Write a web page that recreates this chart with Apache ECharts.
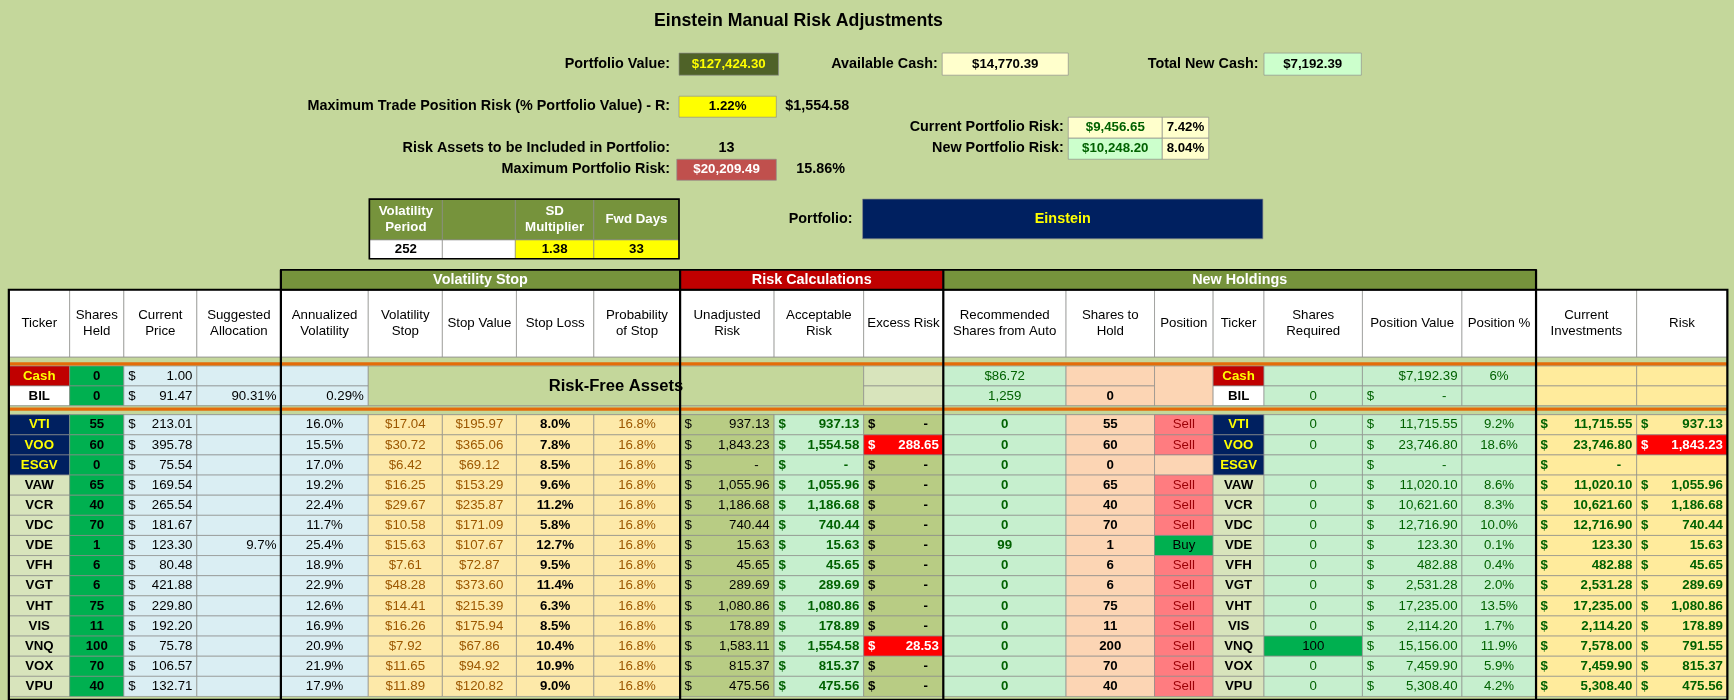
<!DOCTYPE html>
<html><head><meta charset="utf-8">
<script src="https://cdn.jsdelivr.net/npm/echarts@6/dist/echarts.min.js"></script>
<style>html,body{margin:0;padding:0;background:#c4d79b}#c{width:1734px;height:700px}</style>
</head><body><div id="c"></div>
<script>
const tickers=['VTI','VOO','ESGV','VAW','VCR','VDC','VDE','VFH','VGT','VHT','VIS','VNQ','VOX','VPU'];
const navyTickers=['VTI','VOO','ESGV'];
const sharesHeld=[55,60,0,65,40,70,1,6,6,75,11,100,70,40];
const price=[213.01,395.78,75.54,169.54,265.54,181.67,123.30,80.48,421.88,229.80,192.20,75.78,106.57,132.71];
const suggAlloc=['','','','','','','9.7%','','','','','','',''];
const annVol=[16.0,15.5,17.0,19.2,22.4,11.7,25.4,18.9,22.9,12.6,16.9,20.9,21.9,17.9];
const volStop=[17.04,30.72,6.42,16.25,29.67,10.58,15.63,7.61,48.28,14.41,16.26,7.92,11.65,11.89];
const stopValue=[195.97,365.06,69.12,153.29,235.87,171.09,107.67,72.87,373.60,215.39,175.94,67.86,94.92,120.82];
const stopLoss=[8.0,7.8,8.5,9.6,11.2,5.8,12.7,9.5,11.4,6.3,8.5,10.4,10.9,9.0];
const probStop=[16.8,16.8,16.8,16.8,16.8,16.8,16.8,16.8,16.8,16.8,16.8,16.8,16.8,16.8];
const unadjRisk=[937.13,1843.23,null,1055.96,1186.68,740.44,15.63,45.65,289.69,1080.86,178.89,1583.11,815.37,475.56];
const acceptRisk=[937.13,1554.58,null,1055.96,1186.68,740.44,15.63,45.65,289.69,1080.86,178.89,1554.58,815.37,475.56];
const excessRisk=[null,288.65,null,null,null,null,null,null,null,null,null,28.53,null,null];
const recShares=[0,0,0,0,0,0,99,0,0,0,0,0,0,0];
const sharesToHold=[55,60,0,65,40,70,1,6,6,75,11,200,70,40];
const positionAct=['Sell','Sell','','Sell','Sell','Sell','Buy','Sell','Sell','Sell','Sell','Sell','Sell','Sell'];
const sharesReq=[0,0,'',0,0,0,0,0,0,0,0,100,0,0];
const posValue=[11715.55,23746.80,null,11020.10,10621.60,12716.90,123.30,482.88,2531.28,17235.00,2114.20,15156.00,7459.90,5308.40];
const posPct=['9.2%','18.6%','','8.6%','8.3%','10.0%','0.1%','0.4%','2.0%','13.5%','1.7%','11.9%','5.9%','4.2%'];
const curInv=[11715.55,23746.80,null,11020.10,10621.60,12716.90,123.30,482.88,2531.28,17235.00,2114.20,7578.00,7459.90,5308.40];
const riskCol=[937.13,1843.23,'',1055.96,1186.68,740.44,15.63,45.65,289.69,1080.86,178.89,791.55,815.37,475.56];
const headers=['Ticker','Shares\nHeld','Current\nPrice','Suggested\nAllocation','Annualized\nVolatility','Volatility\nStop','Stop Value','Stop Loss','Probability\nof Stop','Unadjusted\nRisk','Acceptable\nRisk','Excess Risk','Recommended\nShares from Auto','Shares to\nHold','Position','Ticker','Shares\nRequired','Position Value','Position %','Current\nInvestments','Risk'];

(function(){
const X=[8,63,112,178,254,333,400,467,537,615,700,781,853,964,1044,1097,1143,1232,1322,1389,1480,1562];
const F='"Liberation Sans", Arial, sans-serif';
const els=[];
function fmt(v){return v.toLocaleString('en-US',{minimumFractionDigits:2,maximumFractionDigits:2});}
function rect(x0,y0,x1,y1,fill,stroke,lw){els.push({type:'rect',shape:{x:x0,y:y0,width:x1-x0,height:y1-y0},style:{fill:fill||'none',stroke:stroke||'#8c8c8c',lineWidth:lw==null?0.6:lw}});}
function txt(x,y,t,o){o=o||{};els.push({type:'text',x:x,y:y,style:{text:String(t),fill:o.c||'#000',font:(o.b?'bold ':'')+(o.s||12)+'px '+F,align:o.a||'center',verticalAlign:'middle',lineHeight:o.lh||15}});}
function cell(x0,y0,x1,y1,fill,t,o){o=o||{};rect(x0,y0,x1,y1,fill);if(t===''||t==null)return;
  const ym=(y0+y1)/2;
  if(o.a==='right')txt(x1-4,ym,t,o);else if(o.a==='left')txt(x0+4,ym,t,o);else txt((x0+x1)/2,ym,t,o);}
function money(x0,y0,x1,y1,fill,v,o){o=o||{};rect(x0,y0,x1,y1,fill);const ym=(y0+y1)/2;
  txt(x0+4,ym,'$',Object.assign({},o,{a:'left'}));
  txt(x1-(v==null?14:4),ym,v==null?'-':fmt(v),Object.assign({},o,{a:'right'}));}
function line(x0,y0,x1,y1,c,w){els.push({type:'line',shape:{x1:x0,y1:y0,x2:x1,y2:y1},style:{stroke:c,lineWidth:w}});}

txt(722,19,'Einstein Manual Risk Adjustments',{b:1,s:16});
txt(606,58,'Portfolio Value:',{b:1,a:'right',s:13});
cell(614,48,704,68,'#4f6228','$127,424.30',{c:'#ffff00',b:1});
txt(848,58,'Available Cash:',{b:1,a:'right',s:13});
cell(852,48,966,68,'#ffffcc','$14,770.39',{b:1});
txt(1138,58,'Total New Cash:',{b:1,a:'right',s:13});
cell(1143,48,1231,68,'#ccffcc','$7,192.39',{b:1});
txt(606,96,'Maximum Trade Position Risk (% Portfolio Value) - R:',{b:1,a:'right',s:13});
cell(614,87,702,106,'#ffff00','1.22%',{b:1});
txt(710,96,'$1,554.58',{b:1,a:'left',s:13});
txt(962,115,'Current Portfolio Risk:',{b:1,a:'right',s:13});
cell(966,106,1051,125,'#ffffcc','$9,456.65',{b:1,c:'#006100'});
cell(1051,106,1093,125,'#ffffcc','7.42%',{b:1});
txt(962,134,'New Portfolio Risk:',{b:1,a:'right',s:13});
cell(966,125,1051,144,'#ccffcc','$10,248.20',{b:1,c:'#006100'});
cell(1051,125,1093,144,'#ffffcc','8.04%',{b:1});
txt(606,134,'Risk Assets to be Included in Portfolio:',{b:1,a:'right',s:13});
txt(657,134,'13',{b:1,s:13});
txt(606,153,'Maximum Portfolio Risk:',{b:1,a:'right',s:13});
cell(612,144,702,163,'#c0504d','$20,209.49',{b:1,c:'#fff'});
txt(720,153,'15.86%',{b:1,a:'left',s:13});
cell(334,180,400,217,'#76933c','Volatility\nPeriod',{b:1,c:'#fff'});
cell(400,180,466,217,'#76933c','');
cell(466,180,537,217,'#76933c','SD\nMultiplier',{b:1,c:'#fff'});
cell(537,180,614,217,'#76933c','Fwd Days',{b:1,c:'#fff'});
cell(334,217,400,234,'#ffffff','252',{b:1});
cell(400,217,466,234,'#ffffff','');
cell(466,217,537,234,'#ffff00','1.38',{b:1});
cell(537,217,614,234,'#ffff00','33',{b:1});
rect(334,180,614,234,'none','#000',1.5);
txt(771,198,'Portfolio:',{b:1,a:'right',s:13});
cell(780,180,1142,216,'#002060','Einstein',{b:1,c:'#ffff00',s:13});

cell(254,244,615,262,'#76933c','Volatility Stop',{b:1,c:'#fff',s:13});
cell(615,244,853,262,'#c00000','Risk Calculations',{b:1,c:'#fff',s:13});
cell(853,244,1389,262,'#76933c','New Holdings',{b:1,c:'#fff',s:13});
for(let i=0;i<21;i++)cell(X[i],262,X[i+1],323,'#ffffff',headers[i],{s:12});
rect(X[0],323,X[21],331,'#c4d79b');

const r0=331,r1=349,r2=367;
cell(X[0],r0,X[1],r1,'#c00000','Cash',{b:1,c:'#ffff00'});
cell(X[0],r1,X[1],r2,'#ffffff','BIL',{b:1});
cell(X[1],r0,X[2],r1,'#00b050','0',{b:1});cell(X[1],r1,X[2],r2,'#00b050','0',{b:1});
money(X[2],r0,X[3],r1,'#daeef3',1.00);money(X[2],r1,X[3],r2,'#daeef3',91.47);
cell(X[3],r0,X[4],r1,'#daeef3','');cell(X[3],r1,X[4],r2,'#daeef3','90.31%',{a:'right'});
cell(X[4],r0,X[5],r1,'#daeef3','');cell(X[4],r1,X[5],r2,'#daeef3','0.29%',{a:'right'});
cell(X[5],r0,X[11],r2,'#c4d79b','Risk-Free Assets',{b:1,s:15});
cell(X[11],r0,X[12],r1,'#d8e4bc','');cell(X[11],r1,X[12],r2,'#d8e4bc','');
cell(X[12],r0,X[13],r1,'#c6efce','$86.72',{c:'#006100'});cell(X[12],r1,X[13],r2,'#c6efce','1,259',{c:'#006100'});
cell(X[13],r0,X[14],r1,'#fcd5b4','');cell(X[13],r1,X[14],r2,'#fcd5b4','0',{b:1});
cell(X[14],r0,X[15],r2,'#fcd5b4','');
cell(X[15],r0,X[16],r1,'#c00000','Cash',{b:1,c:'#ffff00'});cell(X[15],r1,X[16],r2,'#ffffff','BIL',{b:1});
cell(X[16],r0,X[17],r1,'#c6efce','');cell(X[16],r1,X[17],r2,'#c6efce','0',{c:'#006100'});
cell(X[17],r0,X[18],r1,'#c6efce','$7,192.39',{a:'right',c:'#006100'});money(X[17],r1,X[18],r2,'#c6efce',null,{c:'#006100'});
cell(X[18],r0,X[19],r1,'#c6efce','6%',{c:'#006100'});cell(X[18],r1,X[19],r2,'#c6efce','');
for(const c of [19,20]){cell(X[c],r0,X[c+1],r1,'#ffeb9c','');cell(X[c],r1,X[c+1],r2,'#ffeb9c','');}
rect(X[0],r2,X[21],375,'#c4d79b');
line(X[0],329,X[21],329,'#e46c0a',3);line(X[0],370,X[21],370,'#e46c0a',3);

const RH=18.2,topY=375;
tickers.forEach((t,i)=>{
  const y0=topY+i*RH,y1=y0+RH;
  const navy=navyTickers.includes(t);
  const tk=navy?['#002060','#ffff00']:['#d8e4bc','#000'];
  cell(X[0],y0,X[1],y1,tk[0],t,{b:1,c:tk[1]});
  cell(X[1],y0,X[2],y1,'#00b050',sharesHeld[i],{b:1});
  money(X[2],y0,X[3],y1,'#daeef3',price[i]);
  cell(X[3],y0,X[4],y1,'#daeef3',suggAlloc[i],{a:'right'});
  cell(X[4],y0,X[5],y1,'#daeef3',annVol[i].toFixed(1)+'%');
  cell(X[5],y0,X[6],y1,'#fde9a9','$'+volStop[i].toFixed(2),{c:'#9c5700'});
  cell(X[6],y0,X[7],y1,'#fde9a9','$'+fmt(stopValue[i]),{c:'#9c5700'});
  cell(X[7],y0,X[8],y1,'#fde9a9',stopLoss[i].toFixed(1)+'%',{b:1});
  cell(X[8],y0,X[9],y1,'#fde9a9',probStop[i].toFixed(1)+'%',{c:'#9c5700'});
  money(X[9],y0,X[10],y1,'#b8cc84',unadjRisk[i]);
  money(X[10],y0,X[11],y1,'#c6efce',acceptRisk[i],{b:1,c:'#006100'});
  if(excessRisk[i]!=null)money(X[11],y0,X[12],y1,'#ff0000',excessRisk[i],{b:1,c:'#fff'});
  else money(X[11],y0,X[12],y1,'#b8cc84',null,{b:1});
  cell(X[12],y0,X[13],y1,'#c6efce',recShares[i],{b:1,c:'#006100'});
  cell(X[13],y0,X[14],y1,'#fcd5b4',sharesToHold[i],{b:1});
  const p=positionAct[i];
  cell(X[14],y0,X[15],y1,p==='Sell'?'#ff7c80':p==='Buy'?'#00b050':'#fcd5b4',p,{c:p==='Sell'?'#9c0006':'#000'});
  cell(X[15],y0,X[16],y1,tk[0],t,{b:1,c:tk[1]});
  cell(X[16],y0,X[17],y1,sharesReq[i]===100?'#00b050':'#c6efce',sharesReq[i],{c:sharesReq[i]===100?'#000':'#006100'});
  money(X[17],y0,X[18],y1,'#c6efce',posValue[i],{c:'#006100'});
  cell(X[18],y0,X[19],y1,'#c6efce',posPct[i],{c:'#006100'});
  money(X[19],y0,X[20],y1,'#ffeb9c',curInv[i],{b:1,c:'#006100'});
  if(riskCol[i]==='')cell(X[20],y0,X[21],y1,'#ffeb9c','');
  else if(i===1)money(X[20],y0,X[21],y1,'#ff0000',riskCol[i],{b:1,c:'#fff'});
  else money(X[20],y0,X[21],y1,'#ffeb9c',riskCol[i],{b:1,c:'#006100'});
});
const bot=topY+tickers.length*RH;
rect(254,244,1389,262,'none','#000',1.5);
rect(X[0],262,X[21],bot+3,'none','#000',2);
for(const xv of [254,615,853,1389])line(xv,244,xv,bot+3,'#000',2);

const chart=echarts.init(document.getElementById('c'));
chart.setOption({backgroundColor:'#c4d79b',graphic:[{type:'group',scaleX:1734/1568,scaleY:700/633,children:els}]});
})();
</script></body></html>
